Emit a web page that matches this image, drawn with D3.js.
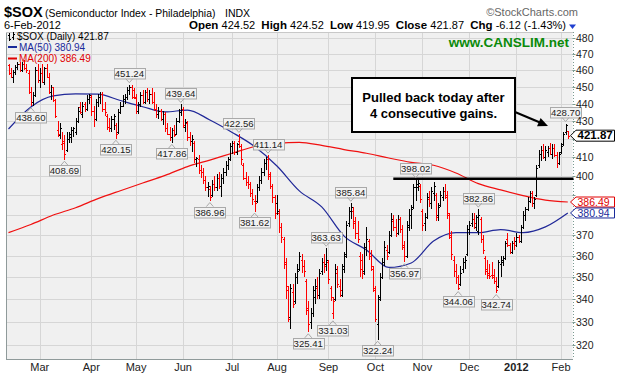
<!DOCTYPE html>
<html>
<head>
<meta charset="utf-8">
<script src="https://cdn.jsdelivr.net/npm/d3@7"></script>
<style>
  html, body { margin: 0; padding: 0; background: #fff; }
  svg { display: block; font-family: "Liberation Sans", Arial, sans-serif; }
</style>
</head>
<body>
<svg id="chart"></svg>
<script>
// daily bars, 8-Feb-2011 .. 6-Feb-2012
const opens = [
  463,458,456,459,462,464,460,464,461,458, 447,441,445,460,454,458,453,461,456,447,
  450,442,425,422,417,419,414,420,421,425, 424,430,438,434,440,437,443,444,436,431,
  441,444,446,437,433,427,426,431,428,424, 435,439,443,444,448,450,448,444,436,440,
  445,441,447,443,446,441,437,434,436,431, 434,426,423,421,425,423,430,435,437,427,
  429,421,419,418,409,409,403,402,398,394, 393,390,396,394,399,395,399,402,406,409,
  416,418,413,419,416,406,399,397,396,391, 387,387,394,398,402,407,409,400,395,389,
  386,381,374,368,357,344,332,343,339,350, 354,358,355,348,335,330,334,341,345,342,
  353,357,356,357,345,334,340,352,346,342, 355,361,376,382,382,377,371,360,358,353,
  364,367,360,354,344,329,341,350,357,363, 362,370,377,374,371,378,373,364,360,374,
  380,384,394,394,395,382,376,379,388,386, 391,390,380,385,389,392,389,380,369,358,
  353,350,347,354,357,361,373,376,378,374, 372,378,368,359,354,352,351,351,348,346,
  356,357,359,368,365,362,366,367,369,367, 374,380,383,387,391,386,390,406,412,414,
  410,413,415,412,415,411,407,413,417,424, 424.52
];
const highs = [
  464,461,460,463,465,465,465,466,464,460, 450,447,462,464,461,464,462,464,458,451,
  450,443,430,429,424,422,424,424,427,427, 432,438,441,441,441,445,446,445,439,443,
  446,447,447,441,434,432,433,434,429,437, 441,445,446,450,451.24,451,449,446,441,447,
  448,448,449,448,449,447,440,438,437,436, 435,429,427,426,428,432,437,439.64,438,431,
  430,424,422,419,410,411,406,404,400,397, 395,398,400,401,402,401,404,408,410,418,
  419,419,418,422.56,417,407,402,400,397,393, 390,396,400,404,409,410,411.14,402,396,390,
  390,383,376,369,359,346,347,347,352,356, 362,361,358,349,339,336,346,349,350,354,
  359,361,363.63,358,346,341,356,355,349,356, 362,377,384,385.84,384,379,377,362,361,366,
  374,368,363,355,346,342,352,359,367,365, 372,381,380,378,380,379,375,367,377,383,
  385,396,398.02,398,396,383,381,391,392,394, 397,391,386,392,394,396,392,381,372,360,
  356,351,355,359,360,375,377,381,381,380, 382.86,379,370,360,358,356,357,354,350,358,
  360,360,367,371,366,367,369,371,370,375, 382,384,389,392,392,389,406,414,416,417,
  416,416,418,417,417,413,413,418,424,428.70, 424.52
];
const lows = [
  457,455,452,457,460,459,459,460,458,446, 438.60,439,444,452,449,452,451,455,446,442,
  441,432,421,420,414,408.69,413,418,418,421, 422,429,434,432,435,436,440,433,427,430,
  438,440,435,433,425,424,424,425,420.15,423, 434,438,440,442,445,443,443,434,434,438,
  440,440,441,440,440,436,432,431,430,428, 424,422,419,417.86,421,422,429,433,426,424,
  419,416,413,407,405,401,399,396,392,389, 386.96,389,392,392,393,389,396,400,403,408,
  412,411,411,415,406,398,395,393,389,385, 381.62,386,392,396,400,403,398,393,386,378,
  380,371,366,354,340,330,327,336,338,347, 353,352,350,333,325.41,327,332,338,340,340,
  351,352,353,347,339,331.03,339,345,341,341, 352,359,374,378,373,368,366,350,349,351,
  360,358,353,343,330,322.24,339,349,355,358, 361,369,372,369,370,371,363,356.97,359,372,
  373,383,387,392,386,372,372,378,384,383, 387,377,377,384,387,388,378,368,358,350,
  347,344.06,346,352,354,360,370,374,373,372, 370,366,361,351,349,349,349,347,342.74,345,
  350,355,358,364,361,361,363,364,366,366, 373,377,382,386,384,383,389,404,408,409,
  408,410,411,409,410,404,406,412,416,422, 419.95
];
const closes = [
  458,456,459,462,464,460,464,461,460,447, 441,445,460,454,458,453,461,456,447,450,
  442,433,423,426,418,412,420,423,425,426, 430,436,435,439,437,443,445,436,431,441,
  444,446,437,435,427,426,431,433,423,435, 439,443,444,448,450,444,443.5,436,440,445,
  441,447,443,446,441,437,434,436,431,434, 426,423,421,425,422,430,435,437,428,429.5,
  421,419,420,409,409.5,403,402,398,394,395, 389,396,394,399,395,399,402,406,409,416,
  418,413,417,416,409,399,397,396,391,388, 386,394,398,402,407,409,401,395,389,381,
  382,374,369,356,346,331,345,338,350,353, 360,355,353,336,329,334,344,346,342,352,
  357,355,358,349,341,339,354,347,344,354, 360,375,382,384,376,371,368,354,352,364,
  368,360,355,345,331,340,350,357,364,360, 370,378,374,371,378,373,365,360,375,380,
  383,394,396,396.5,388,375,379,389,386,392, 395,379,384,390,392,390,381,370,361,353,
  350,345,352,357,358,373,375,378,376,379, 380,368,363,353,351,350.5,350,348,344,357,
  358,359,366,365,362,366,365,369,367,374, 380,383,387,391,386,388,404,412,414,410,
  414,415,412,415,411,407,412,416,423,427.99, 421.87
];

// moving averages read every 10th bar (bar 0, 10, ... 250)
const ma50 = [
  425.6,438.2,444.6,445.8,445.6,441.9,438.3,435.3,436.4,430.7,
  423.7,415.9,405.3,392.2,384.0,369.5,362.8,354.5,356.6,367.1,
  371.2,371.2,372.7,371.2,374.0,380.94
];
const ma200 = [
  371.2,375.2,379.9,383.6,388.2,392.3,396.3,400.3,405.0,408.5,
  412.2,415.9,417.6,418.2,416.5,414.2,412.2,409.6,407.3,405.7,
  401.6,396.0,392.7,389.8,387.5,386.49
];
const maStep = 10;

const monthLabels = ["Mar", "Apr", "May", "Jun", "Jul", "Aug", "Sep", "Oct", "Nov", "Dec", "2012", "Feb"];
const yTicks = [320, 330, 340, 350, 360, 370, 380, 390, 400, 410, 420, 430, 440, 450, 460, 470, 480];
const holidays = ["2011-02-21", "2011-04-22", "2011-05-30", "2011-07-04", "2011-09-05",
                  "2011-11-24", "2011-12-26", "2012-01-02", "2012-01-16"];

// annotated highs / lows: [bar index, value, "h" or "l"]
const notes = [
  [10, 438.60, "l"], [25, 408.69, "l"], [48, 420.15, "l"], [54, 451.24, "h"],
  [73, 417.86, "l"], [77, 439.64, "h"], [90, 386.96, "l"], [103, 422.56, "h"],
  [110, 381.62, "l"], [116, 411.14, "h"], [134, 325.41, "l"], [142, 363.63, "h"],
  [145, 331.03, "l"], [153, 385.84, "h"], [165, 322.24, "l"], [177, 356.97, "l"],
  [182, 398.02, "h"], [201, 344.06, "l"], [210, 382.86, "h"], [218, 342.74, "l"],
  [249, 428.70, "h"]
];
const resistance = 398.6, resistanceFrom = 172;

const width = 617, height = 377;
const plotL = 6, plotR = 572.5, plotT = 32, plotB = 359;

const svg = d3.select("#chart")
  .attr("width", width)
  .attr("height", height)
  .attr("viewBox", [0, 0, width, height]);

const fmt = d3.timeFormat("%Y-%m-%d");
const days = d3.timeDay.range(new Date(2011, 1, 8), new Date(2012, 1, 7))
  .filter(d => d.getDay() % 6 !== 0 && !holidays.includes(fmt(d)));

const x = d3.scaleLinear().domain([0, closes.length - 1]).range([8.5, 567.8]);
const y = d3.scaleLog().domain([320, 480]).range([345, 37.9]);

const last = closes.length - 1;
const tagValues = [ma200[ma200.length - 1], ma50[ma50.length - 1], closes[last]];

// plot background
svg.append("rect")
  .attr("x", plotL).attr("y", plotT)
  .attr("width", plotR - plotL).attr("height", plotB - plotT)
  .attr("fill", "#f0f0f0");

svg.append("clipPath").attr("id", "clip")
  .append("rect")
  .attr("x", plotL).attr("y", plotT)
  .attr("width", plotR - plotL).attr("height", plotB - plotT);

// month starts
const monthStarts = [];
days.forEach((d, i) => {
  if (i > 0 && d.getMonth() !== days[i - 1].getMonth()) monthStarts.push(i);
});

// grid
const grid = svg.append("g").attr("stroke", "#d6d6d6").attr("stroke-width", 1).attr("shape-rendering", "crispEdges");
grid.selectAll(".hg")
  .data(yTicks)
  .join("line")
  .attr("x1", plotL).attr("x2", plotR)
  .attr("y1", d => Math.round(y(d)) + 0.5).attr("y2", d => Math.round(y(d)) + 0.5);
grid.selectAll(".vg")
  .data(monthStarts)
  .join("line")
  .attr("x1", d => Math.round(x(d)) + 0.5).attr("x2", d => Math.round(x(d)) + 0.5)
  .attr("y1", plotT).attr("y2", plotB);

// frame
svg.append("path")
  .attr("d", `M${plotL + 0.5},${plotT}V${plotB + 0.5}H${plotR}`)
  .attr("fill", "none").attr("stroke", "#8f9a9a").attr("shape-rendering", "crispEdges");
svg.append("line")
  .attr("x1", plotL).attr("x2", plotR).attr("y1", plotT + 0.5).attr("y2", plotT + 0.5)
  .attr("stroke", "#c8c8c8").attr("shape-rendering", "crispEdges");
svg.append("line")
  .attr("x1", plotR + 0.5).attr("x2", plotR + 0.5).attr("y1", plotT).attr("y2", plotB)
  .attr("stroke", "#7a9a90").attr("stroke-dasharray", "1,2").attr("shape-rendering", "crispEdges");

const chart = svg.append("g").attr("clip-path", "url(#clip)");

// moving averages
const maLine = d3.line()
  .x((d, i) => x(i * maStep))
  .y(d => y(d))
  .curve(d3.curveMonotoneX);
chart.append("path").datum(ma200)
  .attr("d", maLine).attr("fill", "none").attr("stroke", "#f01010").attr("stroke-width", 1.2);
chart.append("path").datum(ma50)
  .attr("d", maLine).attr("fill", "none").attr("stroke", "#202898").attr("stroke-width", 1.2);

// OHLC bars
chart.append("g")
  .attr("shape-rendering", "crispEdges")
  .selectAll("path")
  .data(closes.map((c, i) => i))
  .join("path")
  .attr("d", i => {
    const xi = Math.round(x(i)) + 0.5;
    return `M${xi},${y(highs[i])}V${y(lows[i])}` +
      `M${xi - 1.5},${Math.round(y(opens[i])) + 0.5}H${xi}` +
      `M${xi},${Math.round(y(closes[i])) + 0.5}H${xi + 1.5}`;
  })
  .attr("fill", "none")
  .attr("stroke-width", 1)
  .attr("stroke", i => (i === 0 || closes[i] < closes[i - 1]) ? "#ff0000" : "#000000");

// resistance line
svg.append("line")
  .attr("x1", x(resistanceFrom)).attr("x2", plotR + 1)
  .attr("y1", y(resistance)).attr("y2", y(resistance))
  .attr("stroke", "#000").attr("stroke-width", 2.5);

// high / low notes
const noteG = svg.append("g").attr("font-size", 9.6).attr("fill", "#222");
notes.forEach(([i, v, k]) => {
  const cx = x(i), bw = 31, bh = 10.5;
  const yv = y(v);
  const top = k === "h" ? yv - 6 - bh : yv + 5.5;
  const edge = k === "h" ? top + bh : top;
  const tip = k === "h" ? yv - 2 : yv + 1.5;
  noteG.append("rect")
    .attr("x", Math.round(cx - bw / 2) + 0.5).attr("y", Math.round(top) + 0.5)
    .attr("width", bw).attr("height", bh)
    .attr("fill", "#f2f2f2").attr("stroke", "#a9a9a9");
  noteG.append("path")
    .attr("d", `M${cx - 3.5},${edge}L${cx},${tip}L${cx + 3.5},${edge}`)
    .attr("fill", "none").attr("stroke", "#a9a9a9");
  noteG.append("text")
    .attr("x", cx).attr("y", Math.round(top) + 9)
    .attr("text-anchor", "middle")
    .text(d3.format(".2f")(v));
});

// right axis (labels hidden behind the value tags are left out)
const axisG = svg.append("g").attr("font-size", 10.5).attr("fill", "#222");
yTicks.forEach(t => {
  axisG.append("line")
    .attr("x1", plotR).attr("x2", plotR + 3)
    .attr("y1", Math.round(y(t)) + 0.5).attr("y2", Math.round(y(t)) + 0.5)
    .attr("stroke", "#7a9a90");
  if (tagValues.some(v => Math.abs(y(v) - y(t)) < 8)) return;
  axisG.append("text")
    .attr("x", plotR + 3.5).attr("y", y(t) + 4)
    .text(t);
});

// month labels
svg.append("g").attr("font-size", 11).attr("fill", "#222")
  .selectAll("text")
  .data(monthStarts)
  .join("text")
  .attr("x", d => x(d)).attr("y", 371)
  .attr("text-anchor", "middle")
  .attr("font-weight", (d, i) => monthLabels[i] === "2012" ? "bold" : null)
  .text((d, i) => monthLabels[i]);

// right-hand value tags
function tag(v, color, bold, fs) {
  const yy = y(v), h = bold ? 5.5 : 5;
  svg.append("path")
    .attr("d", `M${plotR - 2},${yy}L${plotR + 3.5},${yy - h}H614.5V${yy + h}H${plotR + 3.5}Z`)
    .attr("fill", "#fff").attr("stroke", color).attr("stroke-width", 1);
  svg.append("text")
    .attr("x", plotR + 5).attr("y", yy + 3.8)
    .attr("font-size", fs).attr("font-weight", bold ? "bold" : null)
    .attr("fill", color)
    .text(d3.format(".2f")(v));
}
tag(tagValues[0], "#e00000", false, 10.5);
tag(tagValues[1], "#1a2a9a", false, 10.5);
tag(tagValues[2], "#000", true, 11.5);

// header
svg.append("text").attr("x", 4).attr("y", 17)
  .attr("font-size", 14.5).attr("font-weight", "bold").text("$SOX");
svg.append("text").attr("x", 45).attr("y", 16.5).attr("font-size", 10.4)
  .text("(Semiconductor Index - Philadelphia)");
svg.append("text").attr("x", 225).attr("y", 16.5).attr("font-size", 10.5).text("INDX");
svg.append("text").attr("x", 578).attr("y", 16).attr("font-size", 11)
  .attr("text-anchor", "end").attr("fill", "#666").text("\u00A9StockCharts.com");
svg.append("text").attr("x", 4).attr("y", 29).attr("font-size", 11)
  .text(d3.timeFormat("%-d-%b-%Y")(days[last]));

const chg = closes[last] - closes[last - 1];
const ohlc = svg.append("text").attr("x", 566).attr("y", 29)
  .attr("font-size", 11).attr("text-anchor", "end");
[["Open ", true], [opens[last].toFixed(2) + "  ", false],
 ["High ", true], [highs[last].toFixed(2) + "  ", false],
 ["Low ", true], [lows[last].toFixed(2) + "  ", false],
 ["Close ", true], [closes[last].toFixed(2) + "  ", false],
 ["Chg ", true], [chg.toFixed(2) + " (" + (chg / closes[last - 1] * 100).toFixed(2) + "%)", false]
].forEach(([t, b]) => {
  ohlc.append("tspan").attr("font-weight", b ? "bold" : null)
    .attr("font-size", b ? 11.5 : 11).style("white-space", "pre").text(t);
});
svg.append("path").attr("d", "M569,24.5H576L572.5,29Z").attr("fill", "#2040d0");

// legend
svg.append("path")
  .attr("d", "M9.5,33V41M8,35H9.5M9.5,39H11M13.5,32V40M12,37H13.5M13.5,34H15")
  .attr("stroke", "#000").attr("fill", "none").attr("shape-rendering", "crispEdges");
svg.append("text").attr("x", 17).attr("y", 40).attr("font-size", 10)
  .text(`$SOX (Daily) ${closes[last].toFixed(2)}`);
svg.append("line").attr("x1", 8).attr("x2", 17).attr("y1", 47).attr("y2", 47)
  .attr("stroke", "#1a2a9a").attr("stroke-width", 2);
svg.append("text").attr("x", 19).attr("y", 50.5).attr("font-size", 10).attr("fill", "#1a2a9a")
  .text(`MA(50) ${ma50[ma50.length - 1].toFixed(2)}`);
svg.append("line").attr("x1", 8).attr("x2", 17).attr("y1", 58.5).attr("y2", 58.5)
  .attr("stroke", "#e00000").attr("stroke-width", 2);
svg.append("text").attr("x", 19).attr("y", 62).attr("font-size", 10).attr("fill", "#e00000")
  .text(`MA(200) ${ma200[ma200.length - 1].toFixed(2)}`);

svg.append("text").attr("x", 569).attr("y", 47).attr("text-anchor", "end")
  .attr("font-size", 13.5).attr("font-weight", "bold").attr("fill", "#0a8a0a")
  .text("www.CANSLIM.net");

// call-out
svg.append("rect").attr("x", 352).attr("y", 78).attr("width", 163).attr("height", 54)
  .attr("fill", "#fff").attr("stroke", "#000").attr("stroke-width", 2);
svg.append("text").attr("x", 433.5).attr("y", 102).attr("text-anchor", "middle")
  .attr("font-size", 13).attr("font-weight", "bold").text("Pulled back today after");
svg.append("text").attr("x", 433.5).attr("y", 118).attr("text-anchor", "middle")
  .attr("font-size", 13).attr("font-weight", "bold").text("4 consecutive gains.");
svg.append("line").attr("x1", 515).attr("y1", 112).attr("x2", 540).attr("y2", 122.5)
  .attr("stroke", "#000").attr("stroke-width", 2);
svg.append("path").attr("d", "M548,126L537,126.2L540.6,118Z").attr("fill", "#000");
</script>
</body>
</html>
